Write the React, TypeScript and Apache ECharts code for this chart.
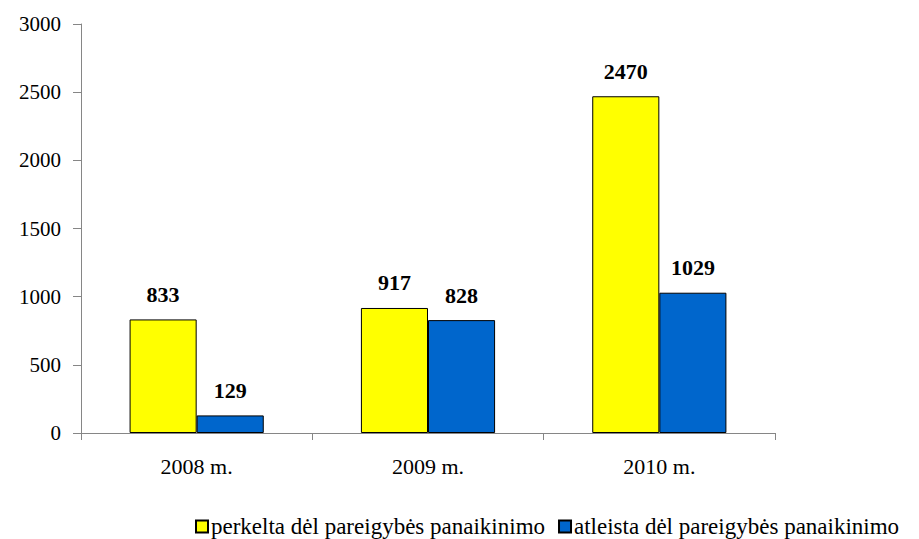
import React, { useEffect, useRef } from "react";
import * as echarts from "echarts";

const categories = ["2008 m.", "2009 m.", "2010 m."];
const seriesNames = ["perkelta dėl pareigybės panaikinimo", "atleista dėl pareigybės panaikinimo"];
const perkelta = [833, 917, 2470];
const atleista = [129, 828, 1029];
const yTicks = [0, 500, 1000, 1500, 2000, 2500, 3000];

const FONT = "Liberation Serif";

export default function App() {
  const ref = useRef<HTMLDivElement>(null);
  useEffect(() => {
    if (!ref.current) return;
    const chart = echarts.init(ref.current, null, { renderer: "svg" });
    const label = {
      show: true,
      position: "top",
      distance: 14,
      fontFamily: FONT,
      fontWeight: "bold",
      fontSize: 22,
      color: "#000",
    };
    chart.setOption({
      animation: false,
      backgroundColor: "#fff",
      textStyle: { fontFamily: FONT },
      grid: { left: 81, right: 144, top: 24, bottom: 106, containLabel: false },
      legend: {
        left: 190,
        top: 510,
        padding: 5,
        itemWidth: 12,
        itemHeight: 12,
        itemGap: 13,
        icon: "rect",
        textStyle: { fontFamily: FONT, fontSize: 23, color: "#000", padding: [0, 0, 0, -2] },
        data: seriesNames,
      },
      xAxis: {
        type: "category",
        data: categories,
        axisLine: { lineStyle: { color: "#868686", width: 1 } },
        axisTick: { show: true, length: 7, lineStyle: { color: "#868686" } },
        axisLabel: { fontFamily: FONT, fontSize: 22, color: "#000", margin: 22 },
      },
      yAxis: {
        type: "value",
        min: yTicks[0],
        max: yTicks[yTicks.length - 1],
        interval: 500,
        axisLine: { show: true, lineStyle: { color: "#868686", width: 1 } },
        axisTick: { show: true, length: 8, lineStyle: { color: "#868686" } },
        splitLine: { show: false },
        axisLabel: {
          fontFamily: FONT,
          fontSize: 21,
          color: "#000",
          margin: 20,
          formatter: (v: number) => String(v),
        },
      },
      series: [
        {
          name: seriesNames[0],
          type: "bar",
          data: perkelta,
          barGap: "0%",
          barCategoryGap: "42%",
          itemStyle: { color: "#FFFF00", borderColor: "#000", borderWidth: 1 },
          label,
        },
        {
          name: seriesNames[1],
          type: "bar",
          data: atleista,
          itemStyle: { color: "#0066CC", borderColor: "#000", borderWidth: 1 },
          label,
        },
      ],
    });
    return () => chart.dispose();
  }, []);
  return <div ref={ref} style={{ width: 919, height: 539, position: "absolute", left: 0, top: 0 }} />;
}
